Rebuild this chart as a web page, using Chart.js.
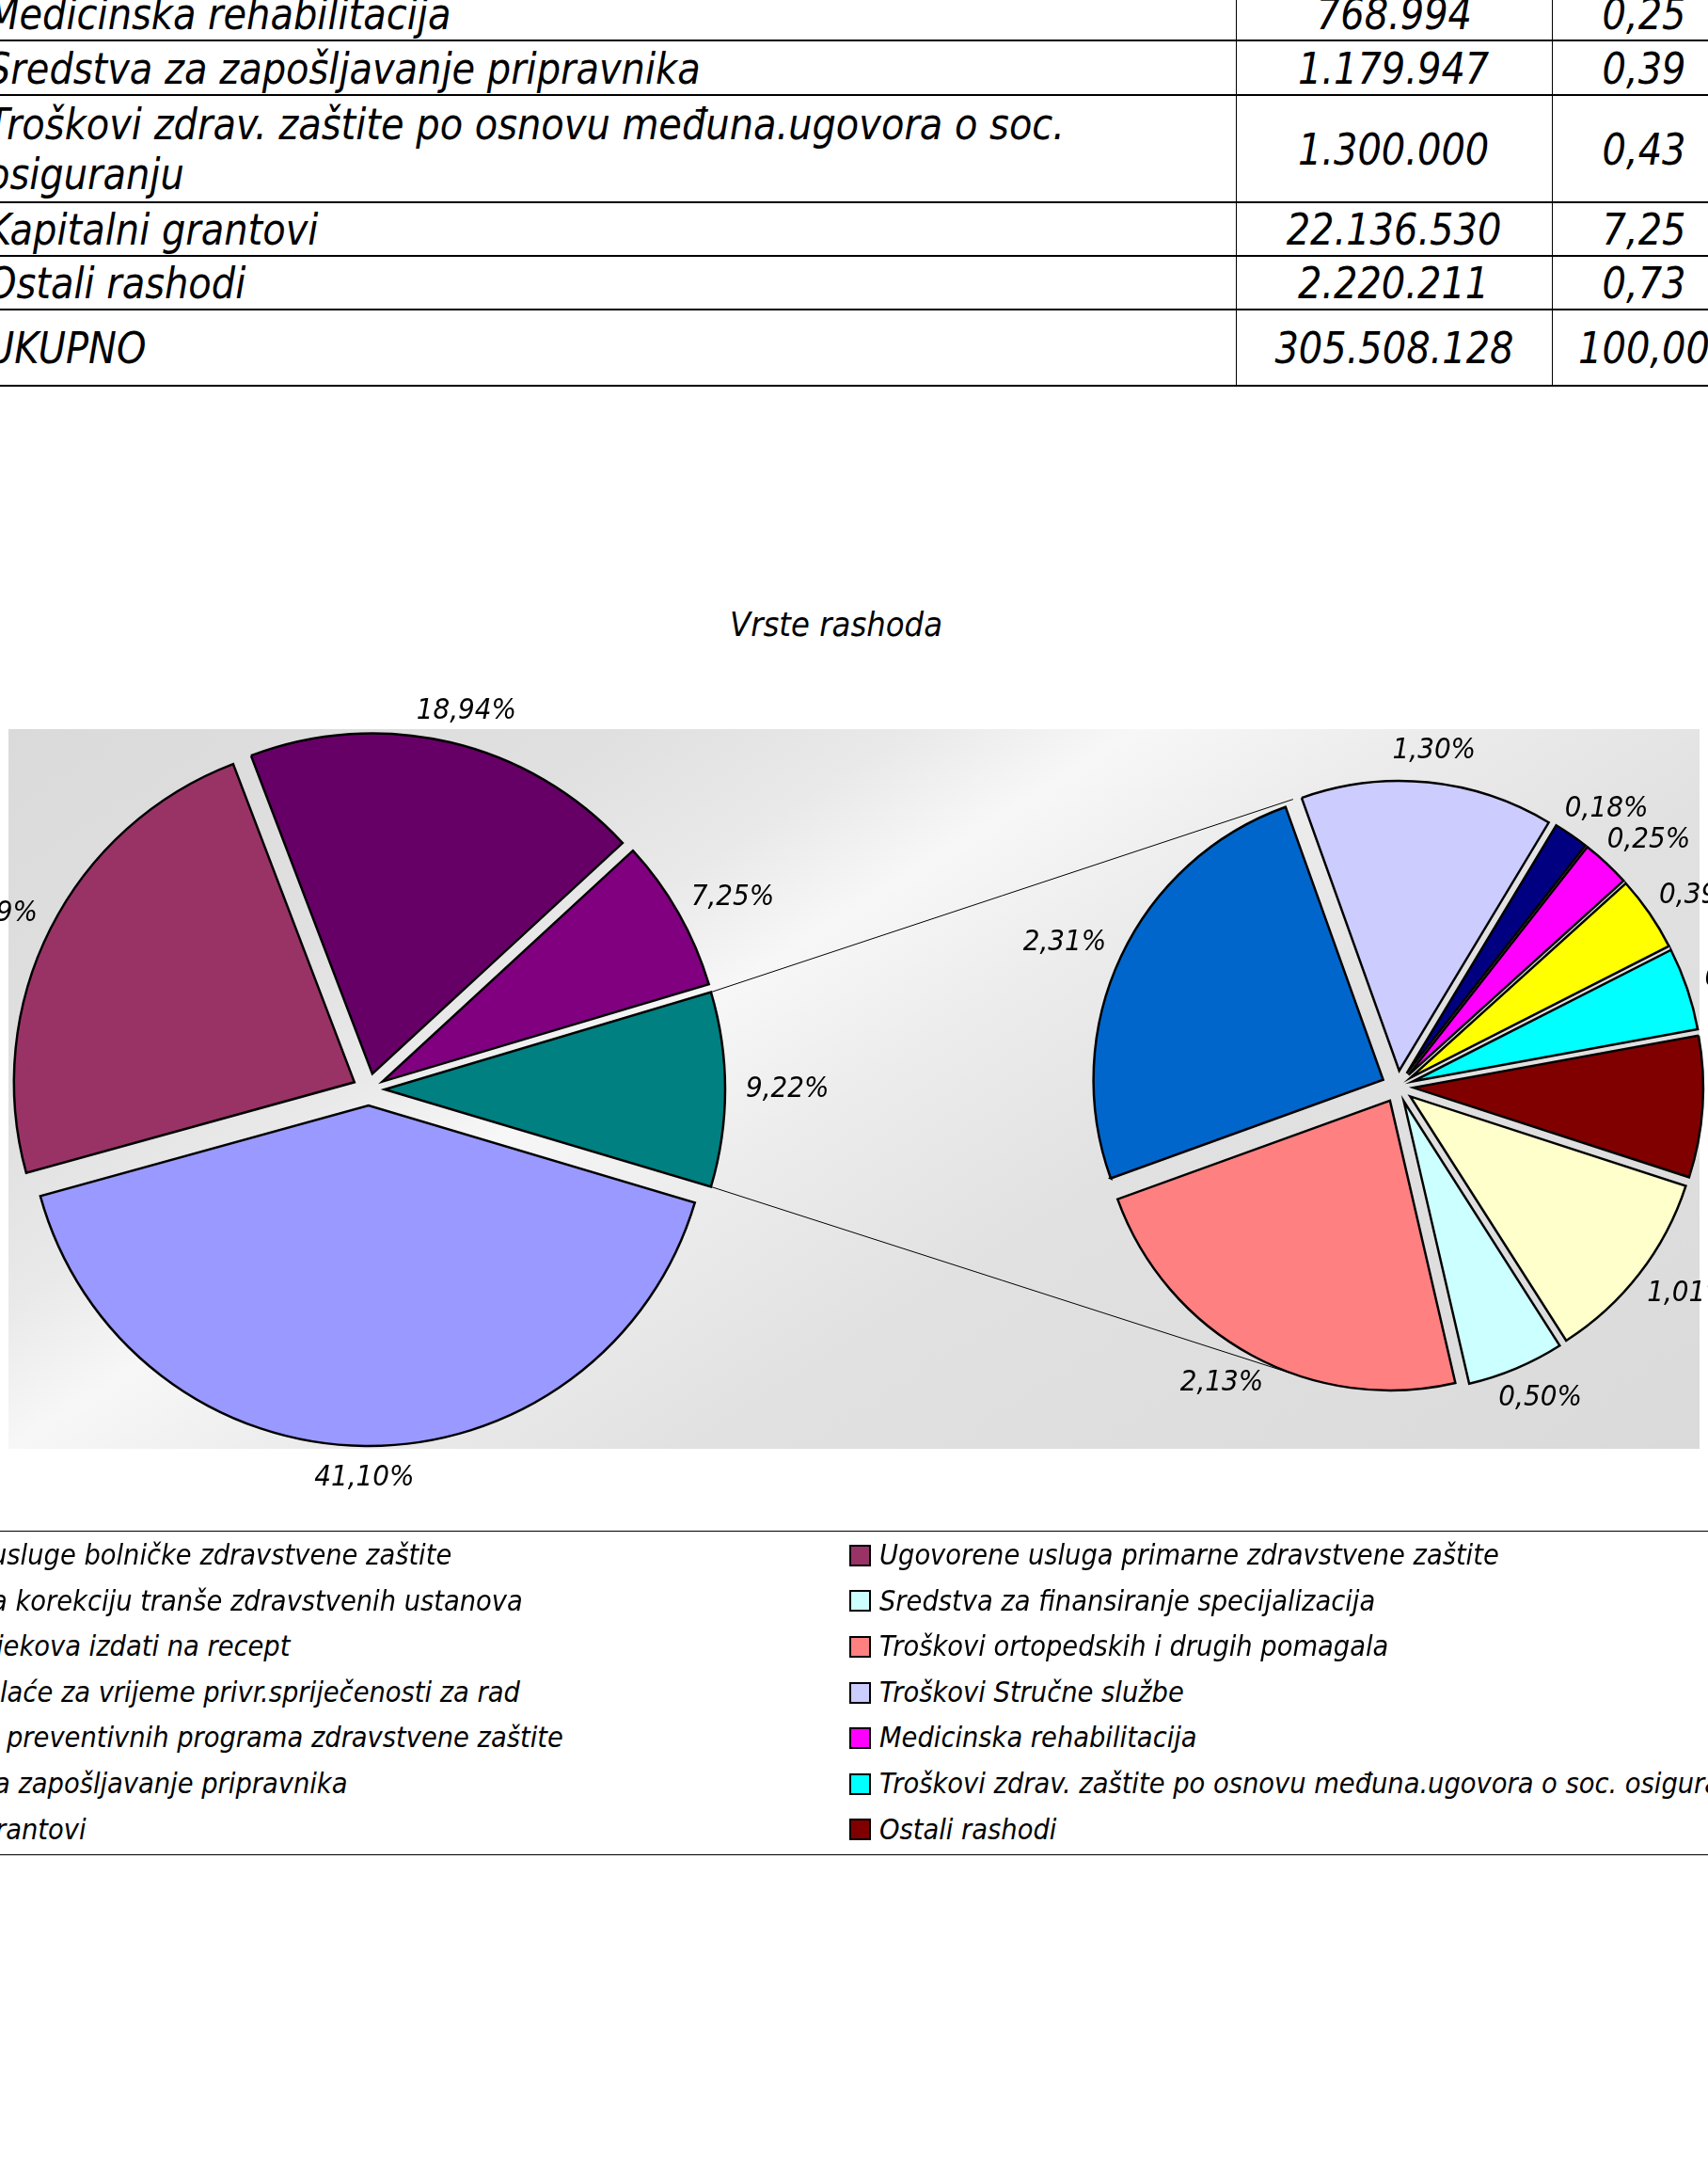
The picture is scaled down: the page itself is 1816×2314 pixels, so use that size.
<!DOCTYPE html>
<html>
<head>
<meta charset="utf-8">
<script src="https://cdn.jsdelivr.net/npm/chart.js@4.4.1/dist/chart.umd.min.js"></script>
<style>
  html, body { margin: 0; padding: 0; }
  body {
    width: 1816px; height: 2314px; overflow: hidden; position: relative; background: #fff;
    font-family: "DejaVu Sans Condensed", "DejaVu Sans", sans-serif; font-style: italic; color: #000;
  }
  .abs { position: absolute; }
  .cell { position: absolute; display: flex; align-items: center; font-size: 47px; line-height: 53px; }
  .cell span { display: inline-block; transform: scaleX(0.945); }
  .hline { position: absolute; left: 0; width: 1816px; background: #000; }
  .vline { position: absolute; top: 0; width: 1px; height: 410px; background: #000; }
  .leg { position: absolute; font-size: 30.4px; white-space: nowrap; }
  .sw { position: absolute; width: 19px; height: 19px; border: 2px solid #000; }
  #title { left: 689px; top: 644px; width: 400px; text-align: center; font-size: 36px; line-height: 40px; }
  #plotBg {
    left: 9px; top: 775px; width: 1798px; height: 765px;
    background: linear-gradient(147.5deg, #dadada 0%, #e0e0e0 22%, #e9e9e9 32%, #f7f7f7 40%, #ececec 50%, #e1e1e1 64%, #dadada 100%);
  }
  canvas { position: absolute; left: -100px; top: 600px; width: 2000px; height: 1060px; }
</style>
</head>
<body>
<div id="table"></div>
<div id="title" class="abs">Vrste rashoda</div>
<div id="plotBg" class="abs"></div>
<canvas id="mainPie" width="2000" height="1060"></canvas>
<canvas id="subPie" width="2000" height="1060"></canvas>
<div id="legend"></div>
<script>
// series, in legend order
const categories = [
  "Ugovorene usluge bolničke zdravstvene zaštite",
  "Ugovorene usluga primarne zdravstvene zaštite",
  "Sredstva za korekciju tranše zdravstvenih ustanova",
  "Sredstva za finansiranje specijalizacija",
  "Troškovi lijekova izdati na recept",
  "Troškovi ortopedskih i drugih pomagala",
  "Naknade plaće za vrijeme privr.spriječenosti za rad",
  "Troškovi Stručne službe",
  "Troškovi preventivnih programa zdravstvene zaštite",
  "Medicinska rehabilitacija",
  "Sredstva za zapošljavanje pripravnika",
  "Troškovi zdrav. zaštite po osnovu međuna.ugovora o soc. osiguranju",
  "Kapitalni grantovi",
  "Ostali rashodi"
];
// amounts (KM): last five read from the table, the others estimated from the % labels
const amounts = [125576093, 71763859, 3085632, 1527541, 57863239, 6507323, 7057238,
                 3971606, 549915, 768994, 1179947, 1300000, 22136530, 2220211];
const colors = ["#9999FF", "#993366", "#FFFFCC", "#CCFFFF", "#660066", "#FF8080", "#0066CC",
                "#CCCCFF", "#000080", "#FF00FF", "#FFFF00", "#00FFFF", "#800080", "#800000"];
// true = shown in the second (right) pie
const inSecondPie = [false, false, true, true, false, true, true, true, true, true, true, true, false, true];
const otherColor = "#008080";
const otherLabel = "Ostalo";
// rows of the table that are visible above the chart
const tableRows = [9, 10, 11, 12, 13];
const totalLabel = "UKUPNO";

const FONT = '"DejaVu Sans Condensed", "DejaVu Sans", sans-serif';
const grandTotal = amounts.reduce((s, v) => s + v, 0);
const fmtAmount = n => String(n).replace(/\B(?=(\d{3})+(?!\d))/g, ".");
const fmtPct = v => (v / grandTotal * 100).toFixed(2).replace(".", ",");

//---- table (top part, cut off by the page)
const tbl = document.getElementById("table");
const rowTops = [-15, 43, 101, 215, 272, 329, 410];
function addCell(x, y, w, h, text, align) {
  const d = document.createElement("div");
  d.className = "cell";
  Object.assign(d.style, { left: x + "px", top: y + "px", width: w + "px", height: h + "px", justifyContent: align });
  const s = document.createElement("span");
  s.textContent = text;
  if (align === "flex-start") {
    s.style.transformOrigin = "left center";
    s.style.maxWidth = "1400px";
  }
  d.appendChild(s);
  tbl.appendChild(d);
}
const rows = tableRows.map(i => [categories[i], fmtAmount(amounts[i]), fmtPct(amounts[i])]);
rows.push([totalLabel, fmtAmount(grandTotal), "100,00"]);
rows.forEach((r, k) => {
  const y = rowTops[k], h = rowTops[k + 1] - rowTops[k];
  addCell(-14, y, 1318, h, r[0], "flex-start");
  addCell(1314, y, 336, h, r[1], "center");
  addCell(1650, y, 196, h, r[2], "center");
});
rowTops.slice(1).forEach(y => {
  const l = document.createElement("div");
  l.className = "hline"; l.style.top = (y - 1) + "px"; l.style.height = "2px";
  tbl.appendChild(l);
});
[1314, 1650].forEach(x => {
  const l = document.createElement("div");
  l.className = "vline"; l.style.left = x + "px";
  tbl.appendChild(l);
});

//---- pie data
const mainIdx = categories.map((c, i) => i).filter(i => !inSecondPie[i]);
const subIdx = categories.map((c, i) => i).filter(i => inSecondPie[i]);
const otherAmount = subIdx.reduce((s, i) => s + amounts[i], 0);

// pushes every slice out along its middle angle (Excel style explode)
const explode = {
  id: "explode",
  afterDatasetUpdate(chart, args, opts) {
    args.meta.data.forEach(arc => {
      const mid = (arc.startAngle + arc.endAngle) / 2;
      arc.x += Math.cos(mid) * opts.px;
      arc.y += Math.sin(mid) * opts.px;
    });
  }
};

// percent labels outside the slices
const pctLabels = {
  id: "pctLabels",
  afterDatasetsDraw(chart, args, opts) {
    const ctx = chart.ctx;
    const data = chart.data.datasets[0].data;
    ctx.save();
    ctx.font = "italic 31px " + FONT;
    ctx.fillStyle = "#000";
    ctx.textAlign = "center";
    ctx.textBaseline = "middle";
    chart.getDatasetMeta(0).data.forEach((arc, i) => {
      const mid = (arc.startAngle + arc.endAngle) / 2;
      const txt = fmtPct(data[i]) + "%";
      const w = ctx.measureText(txt).width;
      const d = arc.outerRadius + opts.gap;
      const x = arc.x + Math.cos(mid) * (d + w / 2);
      const y = arc.y + Math.sin(mid) * (d + 12);
      ctx.fillText(txt, x, y);
    });
    ctx.restore();
  }
};

// thin lines from the "other" slice to the second pie
const connectors = {
  id: "connectors",
  beforeDatasetsDraw(chart, args, opts) {
    const main = Chart.getChart("mainPie");
    if (!main) return;
    const arcs = main.getDatasetMeta(0).data;
    const o = arcs[arcs.length - 1];
    const area = chart.chartArea;
    const sx = (area.left + area.right) / 2, sy = (area.top + area.bottom) / 2;
    const r = chart.getDatasetMeta(0).data[0].outerRadius + opts.reach;
    const a = opts.angle * Math.PI / 180;
    const ctx = chart.ctx;
    ctx.save();
    ctx.strokeStyle = "#000";
    ctx.lineWidth = 1;
    ctx.beginPath();
    ctx.moveTo(o.x + o.outerRadius * Math.cos(o.startAngle), o.y + o.outerRadius * Math.sin(o.startAngle));
    ctx.lineTo(sx + r * Math.cos(-a), sy + r * Math.sin(-a));
    ctx.moveTo(o.x + o.outerRadius * Math.cos(o.endAngle), o.y + o.outerRadius * Math.sin(o.endAngle));
    ctx.lineTo(sx + r * Math.cos(a), sy + r * Math.sin(a));
    ctx.stroke();
    ctx.restore();
  }
};

function pieOptions(radius, rotation, padding, extra) {
  return {
    responsive: false,
    animation: false,
    events: [],
    radius: radius,
    rotation: rotation,
    layout: { padding: padding },
    plugins: Object.assign({
      legend: { display: false },
      tooltip: { enabled: false },
      explode: { px: 17 },
      pctLabels: { gap: 22 }
    }, extra)
  };
}

new Chart("mainPie", {
  type: "pie",
  data: {
    labels: mainIdx.map(i => categories[i]).concat([otherLabel]),
    datasets: [{
      data: mainIdx.map(i => amounts[i]).concat([otherAmount]),
      backgroundColor: mainIdx.map(i => colors[i]).concat([otherColor]),
      borderColor: "#000",
      borderWidth: 2.5,
      borderJoinStyle: "miter"
    }]
  },
  // the "other" slice is centred on 3 o'clock
  options: pieOptions(362, 90 + otherAmount / grandTotal * 180, { left: 92, right: 1108, top: 158, bottom: 102 }, {}),
  plugins: [explode, pctLabels]
});

new Chart("subPie", {
  type: "pie",
  data: {
    labels: subIdx.map(i => categories[i]),
    datasets: [{
      data: subIdx.map(i => amounts[i]),
      backgroundColor: subIdx.map(i => colors[i]),
      borderColor: "#000",
      borderWidth: 2.5,
      borderJoinStyle: "miter"
    }]
  },
  options: pieOptions(308, 108, { left: 1186, right: 14, top: 155, bottom: 105 },
    { connectors: { angle: 110, reach: 17 } }),
  plugins: [explode, pctLabels, connectors]
});

//---- legend (two columns, left one cut off by the page edge)
const legend = document.getElementById("legend");
const legendTop = 1629, legendRowH = 48.6;
// left column: how many characters sit past the page edge, and where the next one starts
const leftCut = [[10, -10], [10, -9], [11, -4], [9, 0], [9, 7], [10, -6], [11, -5]];
const measureCtx = document.createElement("canvas").getContext("2d");
measureCtx.font = "italic 30.4px " + FONT;

[1627, 1971].forEach(y => {
  const l = document.createElement("div");
  l.className = "hline"; l.style.top = y + "px"; l.style.height = "1px";
  legend.appendChild(l);
});
categories.forEach((name, i) => {
  const row = Math.floor(i / 2), col = i % 2;
  const y = legendTop + row * legendRowH;
  let x = 935;
  if (col === 0) {
    const [chars, visX] = leftCut[row];
    x = visX - measureCtx.measureText(name.slice(0, chars)).width;
  }
  const sw = document.createElement("div");
  sw.className = "sw";
  Object.assign(sw.style, { left: (x - 32) + "px", top: (y + legendRowH / 2 - 11.5) + "px", background: colors[i] });
  legend.appendChild(sw);
  const t = document.createElement("div");
  t.className = "leg";
  Object.assign(t.style, { left: x + "px", top: y + "px", lineHeight: legendRowH + "px" });
  t.textContent = name;
  legend.appendChild(t);
});
</script>
</body>
</html>
